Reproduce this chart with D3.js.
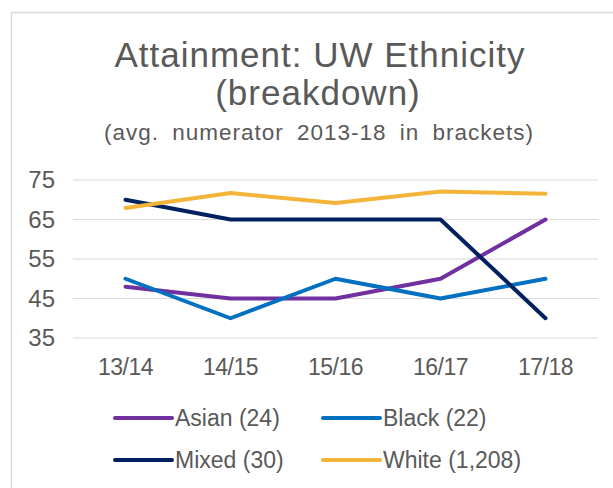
<!DOCTYPE html>
<html>
<head>
<meta charset="utf-8">
<script src="https://cdn.jsdelivr.net/npm/d3@7"></script>
<style>
  body { margin: 0; background: #fff; }
  text { font-family: "Liberation Sans", Arial, sans-serif; fill: #595959; }
</style>
</head>
<body>
<script>
// chart data
var years = ["13/14", "14/15", "15/16", "16/17", "17/18"];
var seriesNames = ["Asian (24)", "Black (22)", "Mixed (30)", "White (1,208)"];
var asian = [48, 45, 45, 50, 65];
var black = [50, 40, 50, 45, 50];
var mixed = [70, 65, 65, 65, 40];
var white = [67.9, 71.7, 69.2, 72.1, 71.5];
var yTicks = [35, 45, 55, 65, 75];
var colors = ["#7030a0", "#0070c0", "#002060", "#f4b43a"];

var width = 613, height = 488;

var svg = d3.select("body").append("svg")
    .attr("width", width)
    .attr("height", height);

// outer chart border
svg.append("rect")
    .attr("x", 11.5).attr("y", 12.5)
    .attr("width", 640).attr("height", 520)
    .attr("fill", "none")
    .attr("stroke", "#d9d9d9")
    .attr("stroke-width", 1.5);

// titles
svg.append("text")
    .attr("x", 320).attr("y", 67)
    .attr("text-anchor", "middle")
    .style("font-size", "35px")
    .style("letter-spacing", "1px")
    .text("Attainment: UW Ethnicity");
svg.append("text")
    .attr("x", 318).attr("y", 105)
    .attr("text-anchor", "middle")
    .style("font-size", "35px")
    .style("letter-spacing", "1px")
    .text("(breakdown)");
svg.append("text")
    .attr("x", 319).attr("y", 140)
    .attr("text-anchor", "middle")
    .style("font-size", "22.5px")
    .style("letter-spacing", "1px")
    .style("word-spacing", "6px")
    .text("(avg. numerator 2013-18 in brackets)");

var x = d3.scaleBand().domain(years).range([73, 598]);
var y = d3.scaleLinear().domain([35, 75]).range([338, 180]);

// gridlines
svg.append("g").selectAll("line")
    .data(yTicks)
    .enter().append("line")
    .attr("x1", 73).attr("x2", 598)
    .attr("y1", function(d) { return y(d); })
    .attr("y2", function(d) { return y(d); })
    .attr("stroke", "#d9d9d9")
    .attr("stroke-width", 1.2);

// y labels
svg.append("g").selectAll("text")
    .data(yTicks)
    .enter().append("text")
    .attr("x", 55)
    .attr("y", function(d) { return y(d); })
    .attr("dy", "0.35em")
    .attr("text-anchor", "end")
    .style("font-size", "24px")
    .text(function(d) { return d; });

// x labels
svg.append("g").selectAll("text")
    .data(years)
    .enter().append("text")
    .attr("x", function(d) { return x(d) + x.bandwidth() / 2; })
    .attr("y", 375)
    .attr("text-anchor", "middle")
    .style("font-size", "23px")
    .style("letter-spacing", "-0.5px")
    .text(function(d) { return d; });

var line = d3.line()
    .x(function(d, i) { return x(years[i]) + x.bandwidth() / 2; })
    .y(function(d) { return y(d); });

var allSeries = [asian, black, mixed, white];

svg.append("g").selectAll("path")
    .data(allSeries)
    .enter().append("path")
    .attr("d", line)
    .attr("fill", "none")
    .attr("stroke", function(d, i) { return colors[i]; })
    .attr("stroke-width", 4)
    .attr("stroke-linecap", "round")
    .attr("stroke-linejoin", "round");

// legend
var legend = svg.append("g").selectAll("g")
    .data(seriesNames)
    .enter().append("g")
    .attr("transform", function(d, i) {
        return "translate(" + (115 + (i % 2) * 208) + "," + (418 + Math.floor(i / 2) * 42) + ")";
    });

legend.append("line")
    .attr("x1", 0).attr("x2", 57)
    .attr("stroke", function(d, i) { return colors[i]; })
    .attr("stroke-width", 4)
    .attr("stroke-linecap", "round");

legend.append("text")
    .attr("x", 60)
    .attr("dy", "0.35em")
    .style("font-size", "23px")
    .text(function(d) { return d; });
</script>
</body>
</html>
